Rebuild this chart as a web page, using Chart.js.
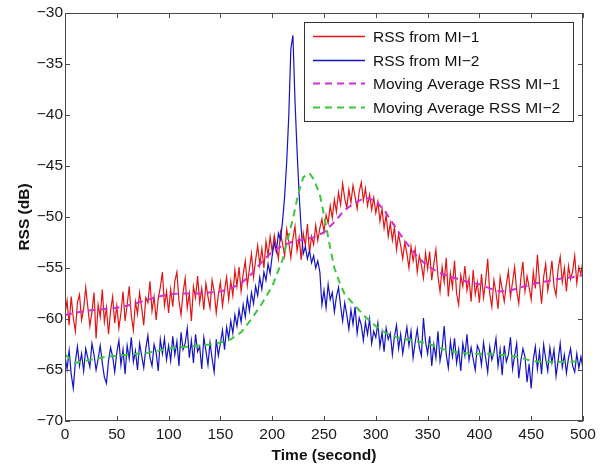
<!DOCTYPE html>
<html>
<head>
<meta charset="utf-8">
<script src="https://cdn.jsdelivr.net/npm/chart.js@4.4.1/dist/chart.umd.min.js"></script>
<style>
  html, body { margin: 0; padding: 0; background: #fff; }
  #wrap { width: 606px; height: 466px; }
</style>
</head>
<body>
<div id="wrap"><canvas id="rss-chart"></canvas></div>
<script>
// samples every 2 s, 0..500
const rawTime = Array.from({ length: 251 }, (_, i) => i * 2);

const rssMI1 = [
  -59.5, -58.2, -60.6, -57.8, -59.9, -61.2, -58.4, -57.6, -60.1, -59.0, -56.9, -58.8, -60.7, -59.3, -57.4, -61.9, -58.6, -59.8, -57.1, -60.3, -58.9, -61.5, -59.2, -57.8, -60.4,
  -58.7, -60.9, -59.4, -57.3, -60.2, -58.6, -56.8, -59.7, -61.1, -58.3, -59.5, -57.4, -58.9, -60.6, -57.9, -58.4, -56.3, -59.2, -57.8, -60.1, -58.0, -56.9, -55.4, -58.7, -57.3,
  -59.4, -57.1, -58.8, -56.3, -55.4, -58.2, -59.6, -57.4, -56.0, -58.9, -57.5, -60.2, -56.8, -57.9, -55.8, -58.4, -57.0, -59.1, -56.5, -57.8, -58.9, -56.2, -57.3, -59.4, -57.6,
  -56.4, -58.7, -57.2, -55.9, -58.1, -56.3, -57.7, -55.2, -56.8, -54.9, -57.3, -55.6, -54.3, -56.7, -55.1, -53.6, -55.9, -54.2, -52.8, -54.7, -53.1, -55.0, -52.4, -53.8, -51.9,
  -53.4, -51.8, -52.9, -54.1, -51.5, -52.6, -53.8, -51.2, -52.4, -54.0, -52.1, -50.9, -53.3, -52.0, -54.2, -51.6, -52.8, -50.7, -53.5, -51.9, -52.7, -50.8, -52.3, -51.1, -50.2,
  -51.4, -49.8, -50.6, -48.9, -50.1, -48.3, -49.5, -47.6, -48.8, -46.7, -48.2, -49.1, -47.3, -48.6, -46.9, -48.0, -49.2, -47.5, -46.6, -48.4, -47.2, -48.9, -47.8, -49.3, -48.1,
  -49.6, -48.5, -50.4, -49.2, -51.1, -49.8, -51.9, -50.6, -52.3, -51.0, -53.2, -51.7, -52.8, -54.1, -52.5, -53.6, -55.0, -52.9, -54.3, -53.1, -55.4, -53.8, -54.7, -56.0, -53.5,
  -55.1, -53.4, -56.2, -54.6, -53.2, -55.8, -57.3, -54.9, -56.4, -54.0, -57.8, -55.5, -56.9, -54.3, -57.5, -58.6, -55.7, -56.8, -54.8, -57.2, -56.0, -58.3, -55.2, -57.6, -56.4,
  -58.4, -55.6, -57.9, -56.3, -54.1, -57.5, -58.8, -56.2, -57.4, -59.0, -55.9, -57.1, -58.3, -56.6, -55.3, -57.8, -56.4, -54.9, -57.2, -58.5, -56.0, -54.4, -57.3, -55.8, -56.9,
  -58.1, -55.4, -57.0, -53.7, -56.3, -58.5, -55.9, -54.6, -57.2, -56.0, -54.3, -56.8, -57.7, -55.1, -53.9, -56.4, -55.0, -57.3, -54.8, -56.1, -55.3, -53.8, -56.5, -54.9, -55.6, -54.2
];

const rssMI2 = [
  -63.6, -64.9, -63.1, -65.4, -66.8, -64.2, -62.7, -64.6, -63.4, -65.1, -62.9, -63.8, -64.7, -62.4, -63.5, -65.0, -63.9, -62.6, -64.3, -65.7, -66.3, -64.1, -62.8, -63.7, -65.2,
  -63.3, -62.1, -64.5, -63.0, -65.4, -62.6, -63.9, -61.8, -64.2, -63.1, -65.0, -62.4, -63.6, -64.8, -62.9, -61.6, -63.8, -64.6, -62.5, -63.3, -65.1, -62.0, -63.4, -61.9, -64.0,
  -62.6, -64.1, -61.7, -63.5, -62.2, -64.6, -61.3, -63.0, -62.4, -60.9, -63.8, -62.1, -64.3, -61.5, -63.2, -62.7, -64.9, -61.8, -63.1, -64.5, -62.3, -63.9, -65.2, -62.0, -63.6,
  -62.4, -61.1, -63.0, -60.8, -61.9, -60.2, -61.4, -59.6, -60.7, -59.1, -60.3, -58.6, -59.8, -57.9, -59.2, -57.4, -58.5, -56.8, -57.7, -55.9, -57.1, -55.4, -56.2, -54.6, -55.5,
  -53.8, -52.5, -53.4, -51.6, -52.2, -50.4, -48.0, -44.6, -40.1, -33.5, -32.2, -38.6, -43.5, -47.8, -51.2, -53.6, -52.9, -54.1, -53.3, -54.5, -53.8, -55.0, -54.3, -55.4, -58.6,
  -57.2, -58.9, -56.6, -58.1, -57.4, -59.3, -57.8, -56.9, -58.7, -60.2, -58.4, -59.6, -61.0, -59.1, -60.5, -58.8, -61.4, -59.9, -60.6, -62.1, -60.3, -61.5, -60.0, -62.4, -61.2,
  -61.8, -60.4, -62.7, -61.3, -63.2, -60.9, -62.0, -61.4, -63.5, -61.7, -60.6, -62.9, -61.5, -63.4, -62.1, -60.8, -62.6, -61.2, -63.8, -62.3, -61.0, -62.8, -63.6, -59.9, -62.2,
  -63.4, -61.7, -64.6, -62.5, -63.8, -61.2, -64.1, -62.9, -60.7, -63.5, -64.8, -62.2, -63.7, -61.9, -64.3, -63.0, -65.1, -62.4, -63.6, -61.5, -64.0, -62.8, -63.9, -65.0, -62.6,
  -63.1, -64.5, -62.3, -63.8, -65.2, -62.7, -64.0, -63.3, -61.9, -64.6, -63.0, -65.5, -62.6, -64.2, -63.5, -61.8, -64.9, -63.6, -62.4, -65.8, -64.1, -62.9, -63.7, -66.2, -64.4,
  -66.8, -64.0, -62.7, -64.9, -63.2, -65.4, -62.5, -63.9, -65.1, -62.8, -64.3, -63.0, -65.6, -64.1, -62.4, -64.7, -63.5, -65.3, -63.8, -62.9, -64.6, -65.2, -63.4, -64.8, -63.7, -64.9
];

const maTime1 = [0, 10, 20, 30, 40, 50, 60, 70, 80, 90, 100, 110, 120, 130, 140, 150, 160, 170, 180, 190, 200, 210, 220, 230, 240, 250,
  260, 270, 280, 290, 300, 310, 320, 330, 340, 350, 360, 370, 380, 390, 400, 410, 420, 430, 440, 450, 460, 470, 480, 490, 500];
const maMI1 = [-59.6, -59.4, -59.2, -59.1, -59.0, -58.9, -58.7, -58.4, -58.1, -57.8, -57.6, -57.5, -57.5, -57.5, -57.4, -57.3, -57.0, -56.5, -55.6, -54.4, -53.4, -52.8, -52.4, -52.2, -52.0, -51.5,
  -50.5, -49.3, -48.6, -48.1, -48.4, -49.6, -51.2, -52.6, -53.9, -54.8, -55.4, -55.8, -56.1, -56.4, -56.6, -57.0, -57.3, -57.2, -56.9, -56.6, -56.4, -56.2, -56.0, -55.9, -55.7];

const maTime2 = [0, 10, 20, 30, 40, 50, 60, 70, 80, 90, 100, 110, 120, 130, 140, 150, 160, 170, 180, 190, 200, 210, 220, 225, 230, 236, 240, 246, 250, 255,
  260, 265, 270, 280, 290, 300, 310, 320, 330, 340, 350, 360, 370, 380, 390, 400, 410, 420, 430, 440, 450, 460, 470, 480, 490, 500];
const maMI2 = [-63.5, -64.3, -64.1, -63.9, -63.7, -63.6, -63.5, -63.4, -63.3, -63.1, -62.9, -62.8, -62.7, -62.6, -62.5, -62.3, -62.0, -61.3, -60.0, -58.5, -56.8, -54.2, -50.2, -47.8, -46.1, -45.7, -46.3, -47.8, -49.8, -52.5,
  -55.0, -56.4, -57.6, -58.7, -59.8, -60.7, -61.4, -61.8, -62.0, -62.2, -62.4, -62.8, -63.1, -63.3, -63.4, -63.4, -63.4, -63.5, -63.6, -63.8, -64.1, -64.2, -64.2, -64.2, -64.2, -64.0];

const xTicks = [0, 50, 100, 150, 200, 250, 300, 350, 400, 450, 500];
const yTicks = [-70, -65, -60, -55, -50, -45, -40, -35, -30];

const seriesLabels = ['RSS from MI\u22121', 'RSS from MI\u22122', 'Moving Average RSS MI\u22121', 'Moving Average RSS MI\u22122'];
const seriesColors = ['#e31414', '#1414c4', '#d22ed2', '#3cc83c'];
const FONT = '"Liberation Sans", Arial, Helvetica, sans-serif';

const toPoints = (xs, ys) => xs.map((x, i) => ({ x, y: ys[i] }));
const minus = v => String(v).replace('-', '\u2212');

// inside tick marks, box frame and the legend, MATLAB style
const frameAndLegend = {
  id: 'frameAndLegend',
  afterDatasetsDraw(chart) {
    const { ctx, chartArea: a, scales: { x, y } } = chart;
    ctx.save();
    ctx.strokeStyle = '#4a4a4a';
    ctx.lineWidth = 1;
    ctx.strokeRect(a.left + 0.5, a.top + 0.5, a.width - 1, a.height - 1);
    ctx.beginPath();
    xTicks.forEach(v => {
      const px = Math.round(x.getPixelForValue(v)) + 0.5;
      ctx.moveTo(px, a.bottom); ctx.lineTo(px, a.bottom - 5);
      ctx.moveTo(px, a.top); ctx.lineTo(px, a.top + 5);
    });
    yTicks.forEach(v => {
      const py = Math.round(y.getPixelForValue(v)) + 0.5;
      ctx.moveTo(a.left, py); ctx.lineTo(a.left + 5, py);
      ctx.moveTo(a.right, py); ctx.lineTo(a.right - 5, py);
    });
    ctx.stroke();

    // legend box
    const bw = 269, bh = 99;
    const bx = a.right - bw - 10, by = a.top + 9;
    ctx.fillStyle = '#fff';
    ctx.fillRect(bx, by, bw, bh);
    ctx.strokeStyle = '#333';
    ctx.strokeRect(bx + 0.5, by + 0.5, bw, bh);
    ctx.font = '15.5px ' + FONT;
    ctx.textBaseline = 'middle';
    chart.data.datasets.forEach((ds, i) => {
      const ly = Math.round(by + 14 + i * 23.7) + 0.5;
      ctx.beginPath();
      ctx.strokeStyle = ds.borderColor;
      ctx.lineWidth = ds.borderDash ? 2 : 1.3;
      ctx.setLineDash(ds.borderDash || []);
      ctx.moveTo(bx + 9, ly);
      ctx.lineTo(bx + 61, ly);
      ctx.stroke();
      ctx.setLineDash([]);
      ctx.fillStyle = '#111';
      ctx.fillText(ds.label, bx + 69, ly + 1);
    });
    ctx.restore();
  }
};

new Chart(document.getElementById('rss-chart'), {
  type: 'line',
  data: {
    datasets: [
      { label: seriesLabels[0], data: toPoints(rawTime, rssMI1), borderColor: seriesColors[0], borderWidth: 1.2, order: 3 },
      { label: seriesLabels[1], data: toPoints(rawTime, rssMI2), borderColor: seriesColors[1], borderWidth: 1.2, order: 2 },
      { label: seriesLabels[2], data: toPoints(maTime1, maMI1), borderColor: seriesColors[2], borderWidth: 2, borderDash: [7, 5], order: 1 },
      { label: seriesLabels[3], data: toPoints(maTime2, maMI2), borderColor: seriesColors[3], borderWidth: 2, borderDash: [7, 5], order: 0 }
    ]
  },
  options: {
    responsive: true,
    maintainAspectRatio: false,
    animation: false,
    events: [],
    elements: { point: { radius: 0 }, line: { tension: 0, fill: false } },
    layout: { padding: { top: 13, right: 23, left: 0, bottom: 0 } },
    plugins: { legend: { display: false }, tooltip: { enabled: false } },
    scales: {
      x: {
        type: 'linear', min: 0, max: 500,
        afterBuildTicks: s => { s.ticks = xTicks.map(v => ({ value: v })); },
        afterFit: s => { s.height = 45; },
        grid: { display: false, drawTicks: false },
        border: { display: false },
        ticks: { color: '#1a1a1a', font: { family: FONT, size: 15.5 }, padding: 4, maxRotation: 0 },
        title: { display: true, text: 'Time (second)', color: '#111', font: { family: FONT, size: 15.5, weight: 'bold' }, padding: { top: 0, bottom: 1 } }
      },
      y: {
        min: -70, max: -30,
        afterBuildTicks: s => { s.ticks = yTicks.map(v => ({ value: v })); },
        afterFit: s => { s.width = 65; },
        grid: { display: false, drawTicks: false },
        border: { display: false },
        ticks: { color: '#1a1a1a', font: { family: FONT, size: 15.5 }, padding: 2, callback: v => minus(v) },
        title: { display: true, text: 'RSS (dB)', color: '#111', font: { family: FONT, size: 15.5, weight: 'bold' }, padding: { top: 15, bottom: 0 } }
      }
    }
  },
  plugins: [frameAndLegend]
});
</script>
</body>
</html>
